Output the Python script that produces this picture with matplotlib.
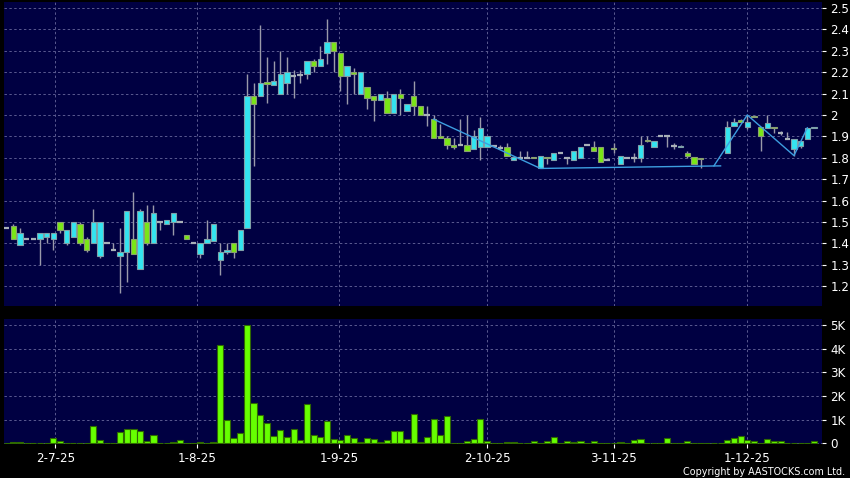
import numpy as np
import matplotlib
matplotlib.use("Agg")
import matplotlib.pyplot as plt

nan = np.nan
# precios diarios (apertura, maximo, minimo, cierre)
opens = [1.47, 1.48, 1.39, 1.42, 1.42, 1.42, 1.43, 1.42, 1.50, 1.40,
         1.43, 1.49, 1.42, 1.40, 1.34, 1.40, 1.37, 1.34, 1.36, 1.42,
         1.28, 1.50, 1.40, 1.50, 1.49, 1.50, 1.50, 1.44, 1.40, 1.35,
         1.40, 1.41, 1.32, 1.36, 1.40, 1.37, 1.47, 2.09, 2.09, 2.155,
         2.14, 2.10, 2.15, 2.18, 2.185, 2.19, 2.25, 2.23, 2.29, 2.34,
         2.29, 2.18, 2.20, 2.10, 2.13, 2.09, 2.07, 2.08, 2.01, 2.10,
         2.02, 2.09, 2.04, 2.00, 1.98, 1.90, 1.89, 1.86, 1.86, 1.86,
         1.84, 1.85, 1.85, 1.855, 1.845, 1.85, 1.79, 1.80, 1.80, 1.805,
         1.75, 1.805, 1.79, 1.82, 1.80, 1.79, 1.80, 1.86, 1.85, 1.85,
         1.79, 1.845, 1.77, 1.80, 1.80, 1.80, 1.885, 1.85, 1.90, 1.90,
         1.855, 1.85, 1.82, 1.805, 1.80, nan, nan, nan, 1.82, 1.95,
         1.977, 1.945, 1.995, 1.945, 1.94, 1.946, 1.918, 1.887, 1.84, 1.857,
         1.887, 1.94]
highs = [1.475, 1.49, 1.47, 1.42, 1.42, 1.45, 1.45, 1.45, 1.50, 1.46,
         1.50, 1.50, 1.43, 1.56, 1.50, 1.40, 1.40, 1.47, 1.55, 1.64,
         1.56, 1.58, 1.58, 1.50, 1.51, 1.54, 1.50, 1.44, 1.40, 1.40,
         1.51, 1.49, 1.40, 1.40, 1.40, 1.46, 2.19, 2.15, 2.42, 2.27,
         2.25, 2.30, 2.27, 2.21, 2.21, 2.25, 2.26, 2.32, 2.45, 2.34,
         2.29, 2.23, 2.22, 2.20, 2.13, 2.09, 2.10, 2.11, 2.10, 2.12,
         2.05, 2.16, 2.04, 2.04, 2.00, 1.96, 1.90, 1.89, 1.98, 2.00,
         1.93, 1.99, 1.90, 1.855, 1.86, 1.87, 1.805, 1.83, 1.83, 1.805,
         1.81, 1.805, 1.82, 1.82, 1.80, 1.83, 1.85, 1.86, 1.88, 1.85,
         1.79, 1.87, 1.81, 1.80, 1.82, 1.90, 1.90, 1.88, 1.90, 1.90,
         1.87, 1.86, 1.83, 1.805, 1.80, nan, nan, nan, 1.97, 1.985,
         1.98, 2.00, 1.995, 1.945, 2.00, 1.946, 1.925, 1.92, 1.887, 1.876,
         1.938, 1.946]
lows = [1.47, 1.42, 1.39, 1.42, 1.42, 1.30, 1.40, 1.37, 1.45, 1.39,
        1.43, 1.39, 1.36, 1.40, 1.33, 1.40, 1.37, 1.17, 1.22, 1.35,
        1.28, 1.39, 1.40, 1.46, 1.49, 1.44, 1.50, 1.42, 1.40, 1.33,
        1.40, 1.41, 1.25, 1.35, 1.33, 1.37, 1.47, 1.76, 2.09, 2.055,
        2.14, 2.10, 2.10, 2.08, 2.15, 2.17, 2.20, 2.23, 2.24, 2.20,
        2.11, 2.05, 2.10, 2.10, 2.03, 1.97, 2.07, 2.01, 2.01, 2.00,
        2.02, 2.00, 2.00, 1.95, 1.89, 1.89, 1.84, 1.84, 1.86, 1.83,
        1.84, 1.79, 1.85, 1.855, 1.84, 1.81, 1.79, 1.80, 1.80, 1.80,
        1.75, 1.77, 1.79, 1.82, 1.77, 1.79, 1.80, 1.86, 1.83, 1.78,
        1.79, 1.82, 1.77, 1.80, 1.78, 1.78, 1.875, 1.85, 1.90, 1.85,
        1.84, 1.85, 1.80, 1.77, 1.75, nan, nan, nan, 1.82, 1.95,
        1.966, 1.935, 1.99, 1.83, 1.94, 1.915, 1.905, 1.887, 1.81, 1.845,
        1.887, 1.94]
closes = [1.472, 1.42, 1.45, 1.42, 1.42, 1.45, 1.45, 1.45, 1.46, 1.46,
          1.50, 1.40, 1.37, 1.50, 1.50, 1.40, 1.37, 1.36, 1.55, 1.35,
          1.55, 1.40, 1.54, 1.50, 1.51, 1.54, 1.50, 1.42, 1.40, 1.40,
          1.42, 1.49, 1.36, 1.37, 1.36, 1.46, 2.09, 2.05, 2.15, 2.145,
          2.16, 2.19, 2.20, 2.18, 2.185, 2.25, 2.23, 2.26, 2.34, 2.30,
          2.18, 2.23, 2.19, 2.20, 2.08, 2.07, 2.10, 2.01, 2.10, 2.08,
          2.05, 2.04, 2.00, 2.00, 1.89, 1.89, 1.86, 1.85, 1.86, 1.83,
          1.90, 1.94, 1.90, 1.855, 1.845, 1.81, 1.805, 1.80, 1.80, 1.80,
          1.81, 1.80, 1.82, 1.82, 1.80, 1.83, 1.85, 1.86, 1.83, 1.78,
          1.79, 1.84, 1.81, 1.80, 1.80, 1.86, 1.88, 1.88, 1.90, 1.90,
          1.855, 1.856, 1.81, 1.77, 1.795, nan, nan, nan, 1.945, 1.966,
          1.966, 1.966, 1.99, 1.90, 1.964, 1.94, 1.915, 1.887, 1.887, 1.876,
          1.938, 1.946]
# volumen en miles
volume = [0, 0.04, 0.04, 0, 0, 0.03, 0, 0.24, 0.10, 0.02,
          0, 0, 0, 0.73, 0.14, 0, 0.02, 0.49, 0.62, 0.62,
          0.54, 0.10, 0.34, 0, 0, 0.04, 0.13, 0, 0, 0.07,
          0, 0.06, 4.15, 0.99, 0.23, 0.44, 5.0, 1.69, 1.18, 0.86,
          0.31, 0.56, 0.25, 0.59, 0.14, 1.66, 0.34, 0.27, 0.93, 0.18,
          0.15, 0.34, 0.21, 0.07, 0.21, 0.17, 0.04, 0.14, 0.52, 0.52,
          0.17, 1.23, 0.05, 0.25, 1.01, 0.34, 1.17, 0.02, 0, 0.10,
          0.17, 1.03, 0.11, 0.01, 0, 0.04, 0.07, 0, 0.03, 0.10,
          0, 0.10, 0.27, 0, 0.08, 0.06, 0.11, 0, 0.11, 0,
          0, 0.02, 0.06, 0, 0.13, 0.17, 0, 0.03, 0.03, 0.21,
          0.03, 0, 0.11, 0, 0.02, 0, 0, 0, 0.14, 0.24,
          0.32, 0.14, 0.11, 0, 0.18, 0.08, 0.08, 0.01, 0, 0.03,
          0.03, 0.10]
# linea de tendencia (indice de la barra, precio)
trend1_idx = [64, 80, 107]
trend1_val = [1.98, 1.75, 1.762]
trend2_idx = [106, 111, 118, 120]
trend2_val = [1.762, 2.0, 1.81, 1.94]
date_pos = [7.3, 28.6, 49.8, 72, 91, 111]
date_labels = ["2-7-25", "1-8-25", "1-9-25", "2-10-25", "3-11-25", "1-12-25"]
price_ticks = [1.2, 1.3, 1.4, 1.5, 1.6, 1.7, 1.8, 1.9, 2.0, 2.1, 2.2, 2.3, 2.4, 2.5]
price_labels = ["1.2", "1.3", "1.4", "1.5", "1.6", "1.7", "1.8", "1.9", "2", "2.1", "2.2", "2.3", "2.4", "2.5"]
vol_ticks = [0, 1, 2, 3, 4, 5]
vol_labels = ["0", "1K", "2K", "3K", "4K", "5K"]

o = np.array(opens); h = np.array(highs); l = np.array(lows); c = np.array(closes)
x = np.arange(len(o))
navy = "#000042"
cyan = "#33e4f0"
green = "#7ae616"
gridc = "#5a5a90"

fig = plt.figure(figsize=(8.5, 4.78), dpi=100, facecolor="black")
ax1 = fig.add_axes([4/850, 1-306/478, 818/850, 304/478])
ax2 = fig.add_axes([4/850, 1-444/478, 818/850, 125/478])

for ax in (ax1, ax2):
    ax.set_facecolor(navy)
    for s in ax.spines.values():
        s.set_visible(False)
    ax.set_xlim(-0.4, 122.2)
    ax.set_xticks(date_pos)
    ax.grid(True, color=gridc, linewidth=0.7, linestyle=(0, (2.5, 2.5)))
    ax.set_axisbelow(True)
    ax.yaxis.tick_right()
    ax.tick_params(colors="white", labelsize=8.6, length=3, width=0.8, pad=3)

ax1.set_ylim(1.107, 2.528)
ax1.set_yticks(price_ticks)
ax1.set_yticklabels(price_labels)
ax1.tick_params(axis="x", length=0, labelbottom=False)

# velas
ok = ~np.isnan(o)
ax1.vlines(x[ok], l[ok], h[ok], color="#9a9aaa", linewidth=1, zorder=2)
up = ok & (c - o > 0.004)
dn = ok & (o - c > 0.004)
flat = ok & ~up & ~dn
ax1.bar(x[up], (c - o)[up], bottom=o[up], width=0.8, color=cyan, edgecolor="#7fa0a8", linewidth=0.8, zorder=3)
ax1.bar(x[dn], (o - c)[dn], bottom=c[dn], width=0.8, color=green, edgecolor="#8aa070", linewidth=0.8, zorder=3)
ax1.hlines(c[flat], x[flat] - 0.42, x[flat] + 0.42, color="#a8b0b8", linewidth=1.6, zorder=3)

ax1.plot(trend1_idx, trend1_val, color="#3d9ee0", linewidth=1, zorder=4)
ax1.plot(trend2_idx, trend2_val, color="#3d9ee0", linewidth=1, zorder=4)

# volumen
ax2.bar(x, volume, width=0.92, color="#66ff00", edgecolor="#2f6a00", linewidth=0.8, zorder=3)
ax2.set_ylim(-0.03, 5.25)
ax2.set_yticks(vol_ticks)
ax2.set_yticklabels(vol_labels)
ax2.set_xticklabels(date_labels)
ax2.tick_params(axis="x", pad=3)

fig.text(845/850, 1-472/478, "Copyright by AASTOCKS.com Ltd.", color="white",
         fontsize=6.9, ha="right", va="center")

fig.savefig("out.png", dpi=100, facecolor="black")
